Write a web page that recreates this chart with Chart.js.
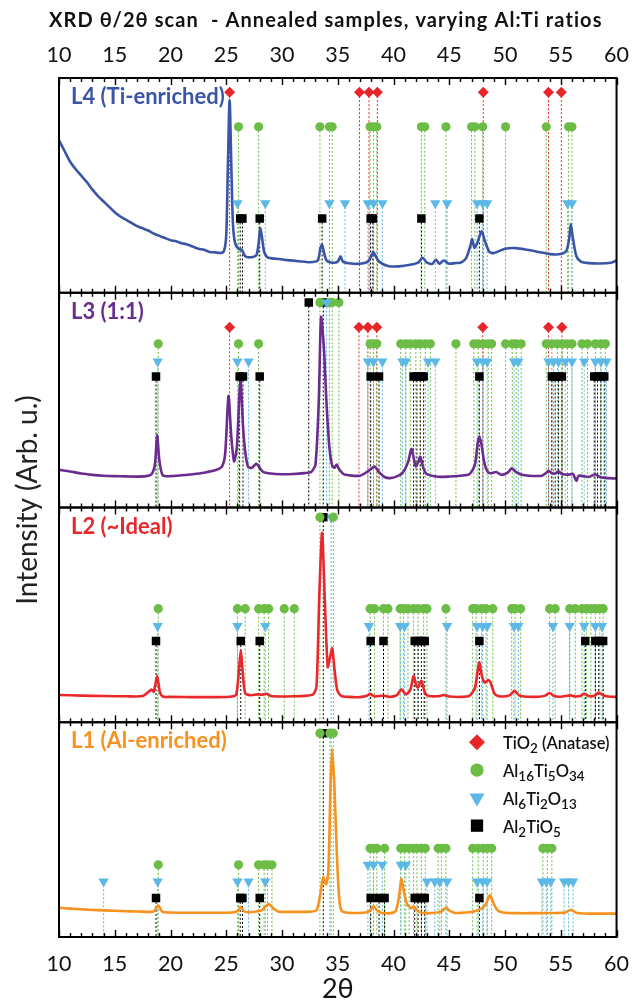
<!DOCTYPE html>
<html>
<head>
<meta charset="utf-8">
<script src="https://cdn.jsdelivr.net/npm/chart.js@4.4.1/dist/chart.umd.min.js"></script>
<style>
  html, body { margin: 0; padding: 0; background: #fff; }
  #wrap { width: 643px; height: 1005px; }
</style>
</head>
<body>
<div id="wrap"><canvas id="xrd" width="643" height="1005"></canvas></div>
<script>
// ---- data (2theta, intensity in arb. units per panel 0..100) ----
const xTicks = [10, 15, 20, 25, 30, 35, 40, 45, 50, 55, 60];

const l4Scan = [[10,71],[10.5,66],[11,61],[11.5,57.5],[12,54.5],[12.5,51.5],[13,48],[13.5,45],[14,42.5],[14.5,40],[15,37.5],[15.5,35.5],[16,34],[16.5,32.5],[17,31],[17.5,30],[18,29],[18.5,27.5],[19,26.5],[19.5,25.5],[20,24.5],[20.5,24],[21,23],[21.5,22.5],[22,21.5],[22.5,20.5],[23,20],[23.5,19],[24,18.8],[24.5,18.5],[24.8,19.5],[25,27],[25.15,60],[25.3,89.7],[25.45,60],[25.6,32],[25.8,23],[26.1,20.5],[26.4,20],[26.7,17],[27.2,16.5],[27.7,17.5],[27.9,23],[28.05,29.9],[28.2,26],[28.4,19],[28.7,16.5],[29.5,15.8],[30.5,15.2],[31.5,14.7],[32.5,14.2],[33.2,15],[33.45,21],[33.6,22.3],[33.75,19],[34,15],[34.5,14],[35,14.5],[35.25,17],[35.45,14.5],[36,13.7],[37,13.5],[37.7,14.5],[38,17],[38.2,19.1],[38.4,17],[38.7,14.5],[39.5,12.5],[40.5,12.3],[41.5,13],[42.2,14],[42.6,16.3],[43,14],[43.5,13.5],[43.8,15.5],[44.1,13.5],[44.5,15],[45,13.5],[45.5,13.8],[46,14],[46.5,16],[46.9,22],[47.05,25],[47.25,21],[47.5,23],[47.9,28.6],[48.2,24],[48.6,19],[49,18.5],[50,20.5],[51,20.8],[52,20],[53,19],[54,18],[55,18],[55.5,19.5],[55.75,25],[55.9,32],[56.1,25],[56.4,17],[56.8,14.5],[57.5,13.8],[58.5,13.6],[59.5,14],[60,15]];
const l4Anatase = [25.3, 36.95, 37.8, 38.55, 48.05, 53.9, 55.05];
const l4Al16Ti5O34 = [26.1, 27.9, 33.4, 34.25, 34.5, 37.9, 38.2, 38.5, 42.5, 42.8, 44.7, 47.0, 47.3, 48.0, 50.05, 53.7, 55.7, 56.0];
const l4Al6Ti2O13 = [26.0, 28.5, 34.25, 35.65, 37.7, 38.2, 39.0, 43.75, 44.8, 47.5, 48.0, 48.4, 55.6, 56.0];
const l4Al2TiO5 = [26.25, 26.45, 28.0, 33.6, 37.95, 38.15, 42.5, 47.7];

const l3Scan = [[10,17.6],[11,16.8],[12,15.8],[13,15.2],[14,14.8],[15,14.6],[16,14.5],[17,14.4],[17.8,14.6],[18.3,15.5],[18.6,20],[18.8,33.5],[19,22],[19.3,15],[20,14.6],[21,15],[22,15.5],[23,16.2],[24,17.3],[24.6,19],[24.9,25],[25.2,51.9],[25.45,33],[25.7,21.5],[25.95,28],[26.2,55],[26.3,58.8],[26.5,38],[26.7,26],[26.95,19],[27.3,18.5],[27.7,20.4],[28,18.5],[28.3,16.6],[29,15.8],[30,15.5],[31,15.6],[32,16],[32.6,16.5],[33,20],[33.3,50],[33.5,88.6],[33.75,75],[34,47.7],[34.25,28],[34.5,19.5],[34.7,18.5],[34.9,20],[35.1,18],[35.5,15.6],[36,15],[37,14.8],[37.7,16.8],[38,18],[38.3,19.1],[38.7,16.5],[39.2,14.2],[39.7,13.7],[40.3,14.5],[40.8,16],[41.3,21],[41.6,27.3],[41.85,22],[42,19.1],[42.2,21],[42.4,23.6],[42.7,18],[43,15.5],[44,14.3],[45,14.4],[46,14.8],[46.8,15.5],[47.3,20],[47.55,30],[47.7,33],[47.9,29],[48.1,22],[48.3,18.2],[48.6,16],[49.2,16.5],[49.7,15.2],[50.3,16.5],[50.6,18.2],[51,16.5],[51.5,15.3],[52.5,14.7],[53.3,14.8],[53.7,16.2],[53.9,17.1],[54.2,16],[54.5,15.8],[54.8,16.8],[55.1,15.6],[55.7,15.3],[56.1,15.6],[56.4,12.4],[56.6,14.8],[57.5,14.2],[58.1,15.5],[58.5,14.2],[59,13.8],[60,13.5]];
const l3Anatase = [25.3, 36.9, 37.7, 38.5, 48.0, 53.9, 55.1];
const l3Al16Ti5O34 = [18.9, 26.1, 27.9, 37.9, 38.2, 38.5, 40.65, 41.1, 41.5, 42.0, 42.4, 42.85, 43.3, 45.6, 47.2, 47.6, 48.05, 48.5, 48.8, 50.05, 50.65, 51.0, 51.45, 53.7, 54.2, 54.7, 55.15, 55.6, 56.0, 56.9, 57.4, 58.1, 58.6, 59.0];
const l3Al16Ti5O34Top = [33.4, 34.25, 34.5, 35.1];
const l3Al6Ti2O13 = [18.85, 26.0, 27.0, 37.7, 38.2, 39.0, 40.8, 41.1, 43.1, 43.75, 47.5, 48.0, 48.4, 50.8, 51.2, 53.9, 54.35, 54.8, 55.4, 56.0, 57.1, 58.1, 58.6, 59.1];
const l3Al6Ti2O13Top = [34.0];
const l3Al2TiO5 = [18.7, 26.2, 26.5, 28.0, 37.95, 38.7, 41.8, 42.1, 42.4, 42.7, 47.7, 54.2, 54.5, 54.8, 55.1, 58.0, 58.3, 58.6, 58.9];
const l3Al2TiO5Top = [32.4, 33.7];

const l2Scan = [[10,12.7],[12,12.4],[14,12.2],[16,12.1],[17.5,12.2],[18.1,14.5],[18.3,15.2],[18.5,14.2],[18.8,21.5],[19.05,14],[19.3,12],[20,11.8],[22,11.7],[24,11.7],[25.5,12],[25.9,13],[26.15,25],[26.3,33.5],[26.45,25],[26.7,13.5],[27.2,12.6],[27.8,13],[28.2,12.8],[28.6,13.3],[29,12.2],[30,12],[31,12.1],[32,12.3],[32.8,13],[33.1,17],[33.35,60],[33.6,88.2],[33.85,55],[34.1,25.7],[34.3,30],[34.5,34.4],[34.7,25],[34.95,15],[35.3,12.3],[36,11.8],[37,11.7],[37.6,12.3],[37.9,13.2],[38.3,12],[39.1,12.4],[39.7,11.8],[40.3,12.6],[40.7,15.3],[41.1,13],[41.5,15],[41.8,21.5],[42.05,17],[42.2,16.2],[42.5,19.3],[42.8,14],[43.1,12.3],[44,12.1],[44.5,12.7],[45,12],[46,11.8],[46.8,12.3],[47.3,16],[47.55,24],[47.7,27.8],[47.95,21],[48.2,18.5],[48.5,19.6],[48.7,18.5],[49.1,13],[49.6,12],[50.4,12.5],[50.85,14.6],[51.3,12.4],[52,11.9],[53,11.9],[53.6,12.4],[54,13.6],[54.4,12.2],[55,11.9],[55.9,12.5],[56.3,12],[56.8,12.3],[57.1,13.3],[57.5,12.2],[58,12.3],[58.4,13.8],[58.8,12.5],[59.5,11.9],[60,11.8]];
const l2Al16Ti5O34 = [18.9, 26.0, 26.7, 27.9, 28.4, 28.8, 30.2, 31.1, 37.9, 38.3, 39.1, 39.5, 40.6, 40.9, 41.3, 41.8, 42.2, 42.7, 43.0, 44.7, 47.1, 47.4, 47.9, 48.3, 48.9, 50.6, 50.9, 51.4, 54.0, 54.5, 55.8, 56.3, 56.9, 57.3, 57.7, 58.1, 58.5, 58.8];
const l2Al16Ti5O34Top = [33.4, 34.6];
const l2Al6Ti2O13 = [18.85, 26.0, 28.5, 37.8, 40.6, 41.0, 44.8, 47.5, 48.0, 48.4, 50.8, 51.2, 54.3, 55.8, 57.1, 58.1, 58.7];
const l2Al6Ti2O13Top = [34.4];
const l2Al2TiO5 = [18.7, 26.3, 28.0, 37.95, 39.1, 41.9, 42.2, 42.5, 42.8, 47.7, 57.2, 58.1, 58.4, 58.8];
const l2Al2TiO5Top = [33.7];

const l1Scan = [[10,13.6],[11,13.2],[12,12.9],[13,12.6],[14,12.4],[15,12.2],[16,12],[17,11.9],[18,11.7],[18.5,11.9],[18.9,14.8],[19.25,11.8],[20,11.4],[22,11.3],[24,11.3],[25.5,11.4],[26,12],[26.3,13.9],[26.6,12],[27,11.5],[27.8,12],[28.2,12.5],[28.8,15.3],[29.3,13],[29.7,11.8],[30.5,11.7],[31.5,11.7],[32.5,11.8],[33.1,12.5],[33.4,19],[33.7,27.8],[33.95,24.5],[34.15,30],[34.35,70],[34.5,87.6],[34.7,70],[34.9,41],[35.1,20],[35.3,12.6],[35.7,11.4],[36.5,11.2],[37.5,11.4],[37.9,12.3],[38.2,14.4],[38.5,12.5],[38.8,11.4],[39.7,11.1],[40.2,12.2],[40.5,19],[40.7,27],[40.9,22],[41.2,15.5],[41.6,13.4],[41.8,14.2],[42.2,12],[42.6,11.2],[43.5,11.2],[44.3,11.8],[44.7,13.6],[45.1,12],[45.5,11.2],[46.5,11.4],[47.3,12],[48,13.6],[48.3,15.5],[48.65,19.5],[48.9,16.5],[49.3,12.6],[49.8,11.4],[51,11.1],[52.5,11.1],[54,11.2],[55.4,11.4],[55.9,12.7],[56.4,11.3],[57.4,10.9],[58.5,10.9],[60,10.9]];
const l1Al16Ti5O34Low = [18.9, 26.1, 27.9, 28.4, 28.7, 29.1];
const l1Al16Ti5O34High = [37.9, 38.2, 38.5, 39.2, 40.65, 41.0, 41.4, 41.8, 42.1, 42.5, 42.85, 44.0, 44.3, 44.7, 47.1, 47.6, 48.05, 48.4, 48.8, 53.4, 53.8, 54.2];
const l1Al16Ti5O34Top = [33.4, 34.3, 34.6];
const l1Al6Ti2O13High = [37.7, 38.2, 39.0, 40.65, 41.1];
const l1Al6Ti2O13Low = [14.0, 18.85, 26.0, 27.0, 28.5, 43.0, 43.7, 44.15, 44.8, 47.5, 48.0, 48.4, 53.3, 53.7, 54.1, 55.3, 55.7, 56.1];
const l1Al6Ti2O13Top = [34.4];
const l1Al2TiO5 = [18.7, 26.25, 26.45, 28.0, 37.95, 38.7, 39.2, 41.9, 42.2, 42.5, 42.8, 47.7];
const l1Al2TiO5Top = [33.7];

// ---- styles ----
const FONT = 'Lato, "Open Sans", sans-serif';
const phaseStyle = {
  anatase: { color: '#e8262a', pointStyle: 'rectRot', radius: 5.5, rotation: 0 },
  al16:    { color: '#6cbd45', pointStyle: 'circle', radius: 4.6, rotation: 0 },
  al6:     { color: '#5cb8e6', pointStyle: 'triangle', radius: 6, rotation: 180 },
  al2:     { color: '#000000', pointStyle: 'rect', radius: 6, rotation: 0 }
};

// panel definitions; h = marker row height in panel units
const panels = [
  { id: 'yL4', weight: 4, label: 'L4 (Ti-enriched)', color: '#3a55a6', scan: l4Scan, refs: [
    { phase: 'al2', xs: l4Al2TiO5, h: 34.6 },
    { phase: 'al6', xs: l4Al6Ti2O13, h: 41.7 },
    { phase: 'al16', xs: l4Al16Ti5O34, h: 77.3 },
    { phase: 'anatase', xs: l4Anatase, h: 93.4 }
  ]},
  { id: 'yL3', weight: 3, label: 'L3 (1:1)', color: '#6a2c8e', scan: l3Scan, refs: [
    { phase: 'al2', xs: l3Al2TiO5, h: 61 },
    { phase: 'al6', xs: l3Al6Ti2O13, h: 68 },
    { phase: 'al16', xs: l3Al16Ti5O34, h: 76.2 },
    { phase: 'anatase', xs: l3Anatase, h: 83.9 },
    { phase: 'al6', xs: l3Al6Ti2O13Top, h: 95.5 },
    { phase: 'al16', xs: l3Al16Ti5O34Top, h: 95.5 },
    { phase: 'al2', xs: l3Al2TiO5Top, h: 95.5 }
  ]},
  { id: 'yL2', weight: 2, label: 'L2 (~Ideal)', color: '#e8282b', scan: l2Scan, refs: [
    { phase: 'al2', xs: l2Al2TiO5, h: 37.8 },
    { phase: 'al6', xs: l2Al6Ti2O13, h: 44.8 },
    { phase: 'al16', xs: l2Al16Ti5O34, h: 52.9 },
    { phase: 'al16', xs: l2Al16Ti5O34Top, h: 95.5 },
    { phase: 'al2', xs: l2Al2TiO5Top, h: 95.5 },
    { phase: 'al6', xs: l2Al6Ti2O13Top, h: 95.5 }
  ]},
  { id: 'yL1', weight: 1, label: 'L1 (Al-enriched)', color: '#f7921e', scan: l1Scan, refs: [
    { phase: 'al2', xs: l1Al2TiO5, h: 18.2 },
    { phase: 'al6', xs: l1Al6Ti2O13Low, h: 25.9 },
    { phase: 'al6', xs: l1Al6Ti2O13High, h: 33.6 },
    { phase: 'al16', xs: l1Al16Ti5O34Low, h: 33.6 },
    { phase: 'al16', xs: l1Al16Ti5O34High, h: 41.3 },
    { phase: 'al16', xs: l1Al16Ti5O34Top, h: 94.9 },
    { phase: 'al2', xs: l1Al2TiO5Top, h: 94.9 },
    { phase: 'al6', xs: l1Al6Ti2O13Top, h: 94.9 }
  ]}
];

const legendItems = [
  { phase: 'anatase', parts: ['TiO', '2', ' (Anatase)'] },
  { phase: 'al16', parts: ['Al', '16', 'Ti', '5', 'O', '34'] },
  { phase: 'al6', parts: ['Al', '6', 'Ti', '2', 'O', '13'] },
  { phase: 'al2', parts: ['Al', '2', 'TiO', '5'] }
];

// ---- datasets ----
const datasets = [];
panels.forEach(p => {
  datasets.push({
    data: p.scan.map(([x, y]) => ({ x, y })),
    yAxisID: p.id,
    borderColor: p.color,
    borderWidth: 2.6,
    pointRadius: 0,
    tension: 0.25,
    order: 1
  });
  p.refs.forEach(r => {
    const st = phaseStyle[r.phase];
    const seg = [];
    r.xs.forEach(x => { seg.push({ x, y: r.h }, { x, y: 0 }, { x, y: null }); });
    datasets.push({
      data: seg,
      yAxisID: p.id,
      borderColor: st.color,
      borderWidth: 1,
      borderDash: [2, 2],
      pointRadius: 0,
      spanGaps: false,
      order: 2
    });
    datasets.push({
      data: r.xs.map(x => ({ x, y: r.h })),
      yAxisID: p.id,
      showLine: false,
      pointStyle: st.pointStyle,
      pointRadius: st.radius,
      pointRotation: st.rotation,
      pointBackgroundColor: st.color,
      pointBorderColor: st.color,
      pointBorderWidth: 0,
      order: 0
    });
  });
});

// ---- scales ----
const scales = {
  x: {
    type: 'linear', position: 'bottom', min: 10, max: 60,
    afterBuildTicks: s => { s.ticks = xTicks.map(v => ({ value: v })); },
    ticks: { color: '#111', font: { family: FONT, size: 21.5 }, padding: 14 },
    grid: { display: false, drawTicks: false },
    border: { display: false },
    title: { display: true, text: '2θ', color: '#111', font: { family: FONT, size: 27 }, padding: { top: 0, bottom: 0 } },
    afterFit: s => { s.height = 68; }
  },
  x2: {
    type: 'linear', position: 'top', min: 10, max: 60,
    afterBuildTicks: s => { s.ticks = xTicks.map(v => ({ value: v })); },
    ticks: { color: '#111', font: { family: FONT, size: 21.5 }, padding: 10 },
    grid: { display: false, drawTicks: false },
    border: { display: false },
    afterFit: s => { s.height = 78; }
  }
};
panels.forEach(p => {
  scales[p.id] = {
    type: 'linear', position: 'left', stack: 'panels', stackWeight: 1, weight: p.weight,
    min: 0, max: 100,
    ticks: { display: false },
    grid: { display: false, drawTicks: false },
    border: { display: false },
    afterFit: s => { s.width = 0; }
  };
});

// ---- decorations: frames, inward ticks, labels, legend ----
const decor = {
  id: 'decor',
  afterDatasetsDraw(chart) {
    const ctx = chart.ctx;
    const xs = chart.scales.x;
    const { left, right } = chart.chartArea;
    ctx.save();
    ctx.strokeStyle = '#000';
    panels.forEach(p => {
      const ys = chart.scales[p.id];
      const top = ys.top, bottom = ys.bottom;
      ctx.lineWidth = 1.4;
      for (let v = 10; v <= 60; v++) {
        const px = Math.round(xs.getPixelForValue(v)) + 0.5;
        const len = v % 5 === 0 ? 7 : 4;
        ctx.beginPath();
        ctx.moveTo(px, top); ctx.lineTo(px, top + len);
        ctx.moveTo(px, bottom); ctx.lineTo(px, bottom - len);
        ctx.stroke();
      }
      ctx.lineWidth = 2;
      ctx.strokeRect(left, top, right - left, bottom - top);
      ctx.fillStyle = p.color;
      ctx.font = 'bold 22px ' + FONT;
      ctx.textBaseline = 'alphabetic';
      ctx.textAlign = 'left';
      ctx.fillText(p.label, left + 12, top + 26);
    });
    ctx.restore();
  },
  afterDraw(chart) {
    const ctx = chart.ctx;
    ctx.save();
    // title
    ctx.fillStyle = '#111';
    ctx.font = 'bold 20px ' + FONT;
    ctx.letterSpacing = '1.1px';
    ctx.textBaseline = 'alphabetic';
    ctx.textAlign = 'left';
    ctx.fillText('XRD θ/2θ scan  - Annealed samples, varying Al:Ti ratios', 49, 27);
    ctx.letterSpacing = '0px';
    // y title
    ctx.save();
    ctx.translate(28, 500);
    ctx.rotate(-Math.PI / 2);
    ctx.textAlign = 'center';
    ctx.textBaseline = 'middle';
    ctx.font = '28px ' + FONT;
    ctx.fillStyle = '#222';
    ctx.fillText('Intensity (Arb. u.)', 0, 0);
    ctx.restore();
    // legend inside L1 panel
    const y1 = chart.scales.yL1;
    const mx = 477, tx = 503;
    legendItems.forEach((it, i) => {
      const cy = y1.top + 20 + i * 27.8;
      const st = phaseStyle[it.phase];
      ctx.fillStyle = st.color;
      ctx.strokeStyle = st.color;
      Chart.helpers.drawPoint(ctx, {
        pointStyle: st.pointStyle, radius: st.radius * 1.45, rotation: st.rotation, borderWidth: 0
      }, mx, cy);
      let x = tx;
      ctx.fillStyle = '#111';
      it.parts.forEach((t, k) => {
        const sub = k % 2 === 1;
        ctx.font = (sub ? '600 13.5px ' : '600 16.5px ') + FONT;
        ctx.fillText(t, x, cy + 7 + (sub ? 4 : 0));
        x += ctx.measureText(t).width;
      });
    });
    ctx.restore();
  }
};

new Chart(document.getElementById('xrd'), {
  type: 'line',
  data: { datasets },
  options: {
    responsive: false,
    animation: false,
    devicePixelRatio: 1,
    layout: { padding: { left: 59, right: 17, top: 0, bottom: 0 } },
    scales,
    plugins: { legend: { display: false }, tooltip: { enabled: false }, title: { display: false } }
  },
  plugins: [decor]
});
</script>
</body>
</html>
